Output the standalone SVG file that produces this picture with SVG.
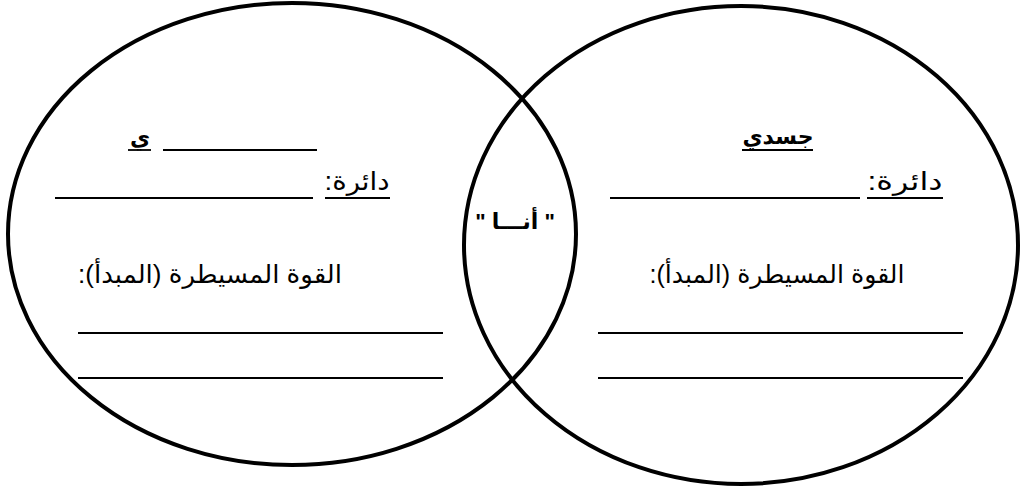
<svg xmlns="http://www.w3.org/2000/svg" width="1020" height="486" viewBox="0 0 1020 486">
<style>
.ring{fill:none;stroke:#000;stroke-width:4}
.t{font-family:"Liberation Sans","DejaVu Sans",sans-serif;font-size:25px;fill:#000;text-anchor:middle}
.b{font-weight:bold;font-size:22px}
.ln{stroke:#000;stroke-width:1.8}
</style>
<rect width="1020" height="486" fill="#fff"/>
<g id="left-circle">
<ellipse class="ring" cx="292" cy="234" rx="284" ry="231"/>
<text class="t b" x="140" y="145" direction="rtl">ي</text>
<line class="ln" x1="128" y1="150" x2="151" y2="150"/>
<line class="ln" x1="163" y1="150" x2="317" y2="150"/>
<text class="t" x="357" y="190" direction="rtl" textLength="65" lengthAdjust="spacingAndGlyphs">دائرة:</text>
<line class="ln" x1="325" y1="198" x2="390" y2="198"/>
<line class="ln" x1="55" y1="198" x2="313" y2="198"/>
<text class="t" x="210" y="283" direction="rtl" textLength="264" lengthAdjust="spacingAndGlyphs">القوة المسيطرة (المبدأ):</text>
<line class="ln" x1="78" y1="333" x2="443" y2="333"/>
<line class="ln" x1="78" y1="378" x2="443" y2="378"/>
</g>
<g id="right-circle">
<ellipse class="ring" cx="741" cy="245" rx="277" ry="239"/>
<text class="t b" x="778" y="144" direction="rtl">جسدي</text>
<line class="ln" x1="742" y1="150" x2="813" y2="150"/>
<text class="t" x="905" y="190" direction="rtl" textLength="75" lengthAdjust="spacingAndGlyphs">دائرة:</text>
<line class="ln" x1="867" y1="198" x2="943" y2="198"/>
<line class="ln" x1="610" y1="198" x2="860" y2="198"/>
<text class="t" x="777" y="283" direction="rtl" textLength="255" lengthAdjust="spacingAndGlyphs">القوة المسيطرة (المبدأ):</text>
<line class="ln" x1="598" y1="333" x2="963" y2="333"/>
<line class="ln" x1="598" y1="378" x2="963" y2="378"/>
</g>
<g id="overlap">
<text class="t b" x="515" y="229" direction="rtl">" أنـــا "</text>
</g>
<g id="connectors"></g>
</svg>
